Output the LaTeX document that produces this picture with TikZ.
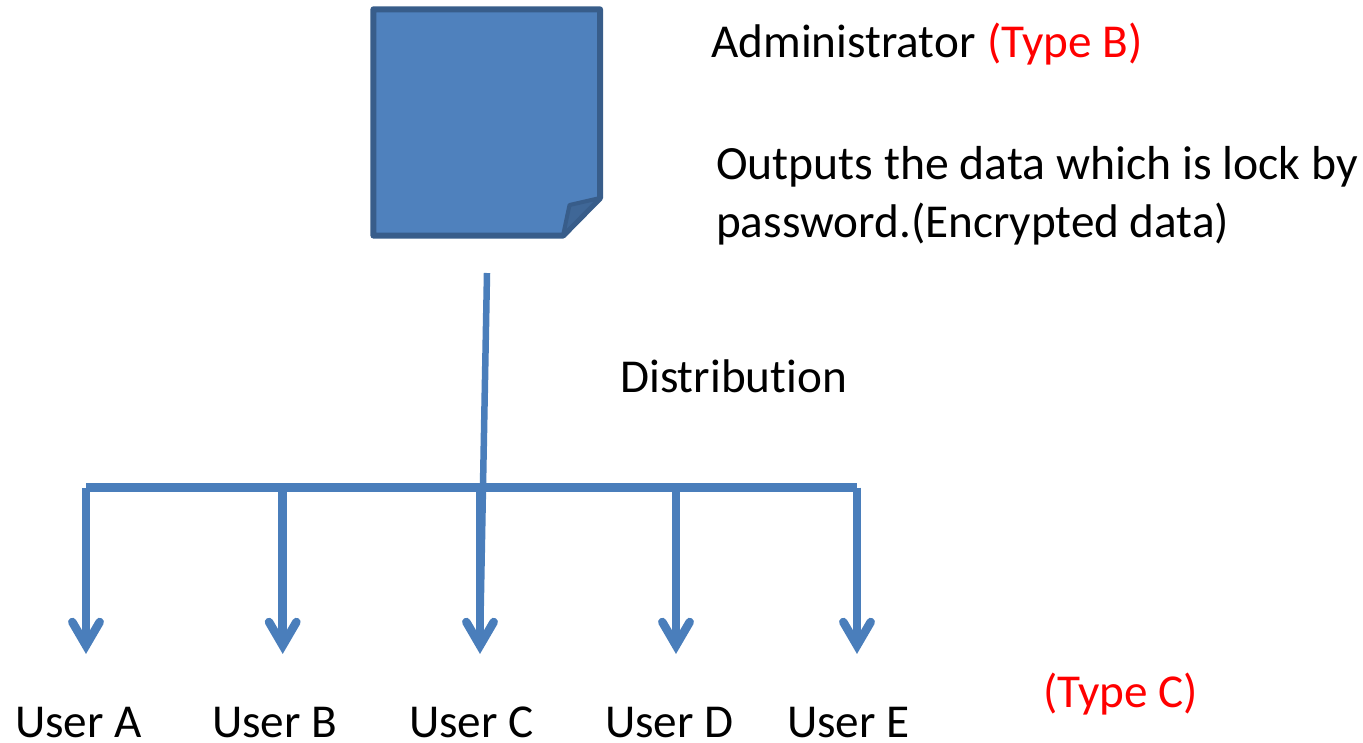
\documentclass[tikz,border=0pt]{standalone}
\usepackage{fontspec}
\setmainfont[RawFeature=-liga]{Carlito}
\usetikzlibrary{calc}
\definecolor{linkblue}{RGB}{74,126,187}
\definecolor{pagefill}{RGB}{79,129,189}
\definecolor{pageedge}{RGB}{56,93,138}
\definecolor{foldfill}{RGB}{63,103,151}
\begin{document}
\begin{tikzpicture}[
 x=1pt,y=-1pt,
 font=\fontsize{47.2}{57}\selectfont,
 label/.style={anchor=base west,inner sep=0pt},
 note/.style={label,text=red},
 page/.style={draw=pageedge,fill=pagefill,line width=6pt,line join=round},
 trunk/.style={draw=linkblue,line width=6.5pt},
 drop/.style={trunk,line width=8.5pt},
 tip/.style={trunk,line width=8.5pt,line cap=round,line join=miter},
]
\useasboundingbox (0,0) rectangle (1363,742);

% Document
\draw[page] (373.4,9.3) -- (600,9.3) -- (600,198) -- (563,235.6) -- (373.4,235.6) -- cycle;
\draw[page,fill=foldfill,line width=4pt] (563,235.6) -- (569.5,205) -- (600,198) -- cycle;

% Distribution lines
\coordinate (top) at (487,273);
\coordinate (busL) at (86,487.5);
\coordinate (busR) at (857,487.5);
\draw[trunk] (top) -- (480,645.5);
\draw[drop] (busL) -- (busR);

\foreach \name/\x in {A/86, B/282.7, C/480, D/676, E/857} {
    \coordinate (tip\name) at (\x,645.5);
    \ifx\name C\else \draw[drop] (\x,487.5) -- (tip\name); \fi
    \draw[tip] ($(tip\name)+(-13.7,-23.5)$) -- (tip\name) -- ($(tip\name)+(13.7,-23.5)$);
}

% Labels
\node[label] (admin) at (711,57) {Administrator};
\node[note] (typeb) at (987,57) {(Type B)};
\node[label,font=\fontsize{47.7}{57}\selectfont] (out1) at (716,179.5) {Outputs the data which is lock by};
\node[label] (out2) at (716,237) {password.(Encrypted data)};
\node[label] (dist) at (620,392) {Distribution};
\node[note] (typec) at (1043,707) {(Type C)};
\foreach \name/\x in {A/15,B/212,C/409,D/605,E/787}
    \node[label] (user\name) at (\x,737) {User \name};
\end{tikzpicture}
\end{document}
